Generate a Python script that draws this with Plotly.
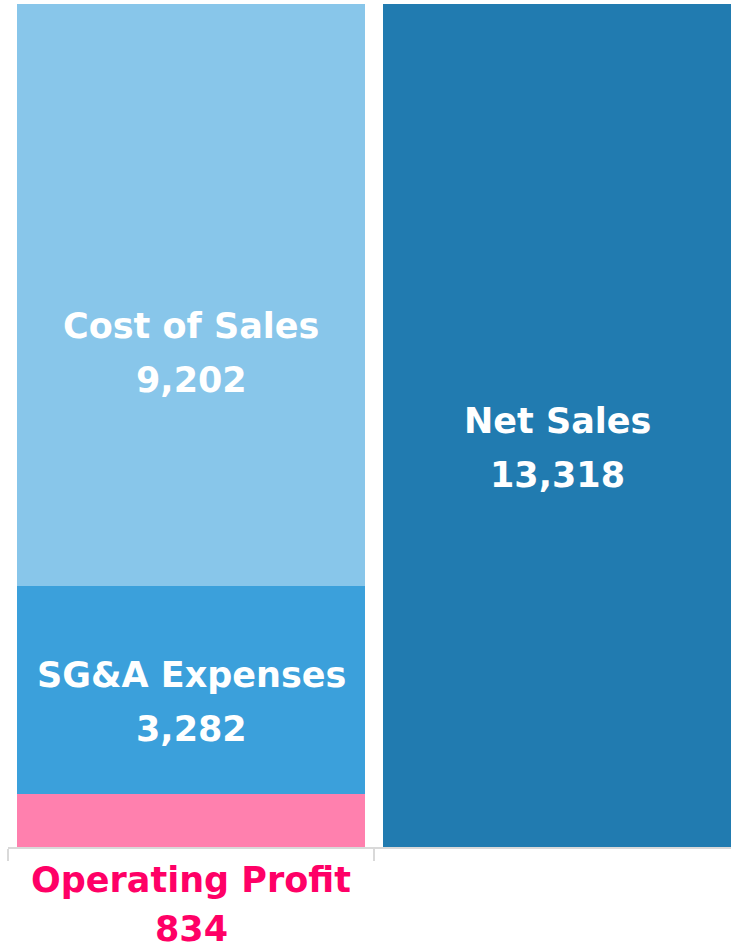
import plotly.graph_objects as go

categories = ["Costs", "Revenue"]
segment_names = ["Operating Profit", "SG&A Expenses", "Cost of Sales", "Net Sales"]
segment_values = [834, 3282, 9202, 13318]
segment_category = ["Costs", "Costs", "Costs", "Revenue"]
segment_colors = ["#FF80AE", "#3BA0DB", "#88C6EA", "#217BB0"]

FONT = "DejaVu Sans"
fig = go.Figure()

for name, val, cat, col in zip(segment_names, segment_values, segment_category, segment_colors):
    fig.add_trace(go.Bar(
        x=[cat], y=[val], name=name, marker=dict(color=col, line=dict(width=0)),
        width=0.953, hoverinfo="skip", showlegend=False,
    ))

# label annotations (name + value), placed from cumulative stack positions
cum = {c: 0 for c in categories}
label_shift = {"SG&A Expenses": -12, "Cost of Sales": -58, "Net Sales": -22}
for name, val, cat in zip(segment_names, segment_values, segment_category):
    base = cum[cat]
    cum[cat] += val
    mid = base + val / 2
    if name == "Operating Profit":
        fig.add_annotation(x=cat, y=0, yref="y", text=f"<b>{name}</b>", showarrow=False,
                           yanchor="middle", yshift=-33,
                           font=dict(family=FONT, size=35, color="#FF0066"))
        fig.add_annotation(x=cat, y=0, yref="y", text=f"<b>{val:,}</b>", showarrow=False,
                           yanchor="middle", yshift=-82,
                           font=dict(family=FONT, size=35, color="#FF0066"))
    else:
        s = label_shift[name]
        fig.add_annotation(x=cat, y=mid, text=f"<b>{name}</b>", showarrow=False,
                           yanchor="middle", yshift=s + 27,
                           font=dict(family=FONT, size=35, color="white"))
        fig.add_annotation(x=cat, y=mid, text=f"<b>{val:,}</b>", showarrow=False,
                           yanchor="middle", yshift=s - 27,
                           font=dict(family=FONT, size=35, color="white"))

fig.update_layout(
    width=731, height=949,
    margin=dict(l=8, r=0, t=4, b=102, pad=0),
    barmode="stack",
    bargap=0,
    plot_bgcolor="white", paper_bgcolor="white",
    xaxis=dict(range=[-0.5, -0.5 + 723 / 366], showgrid=False, zeroline=False,
               showline=True, linecolor="#D9D9D9", linewidth=2,
               ticks="outside", tickson="boundaries", ticklen=12, tickcolor="#D9D9D9",
               tickwidth=2, showticklabels=False, fixedrange=True),
    yaxis=dict(range=[0, 13318], showgrid=False, zeroline=False,
               showline=False, showticklabels=False, fixedrange=True),
)

fig.write_html("out.html", config={"displayModeBar": False},
               post_script="document.body.style.margin='0px';document.body.style.overflow='hidden';")
